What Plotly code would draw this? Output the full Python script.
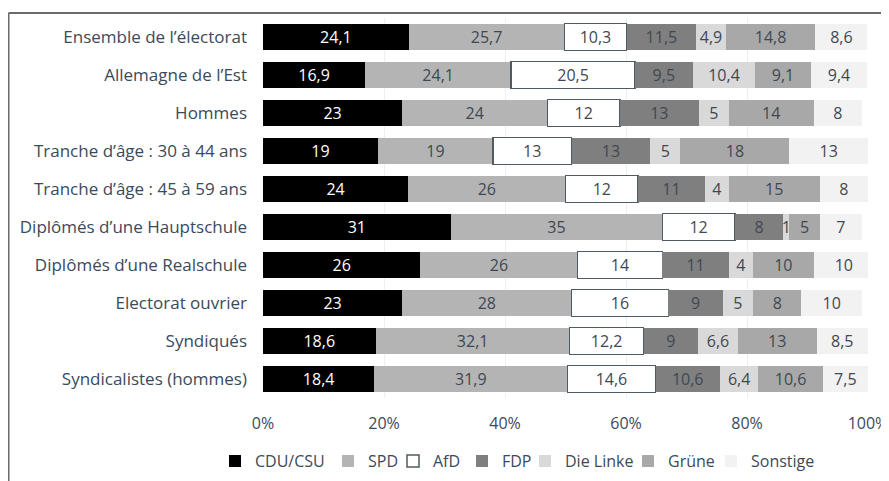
import plotly.graph_objects as go

categories = [
    "Ensemble de l’électorat",
    "Allemagne de l’Est",
    "Hommes",
    "Tranche d’âge : 30 à 44 ans",
    "Tranche d’âge : 45 à 59 ans",
    "Diplômés d’une Hauptschule",
    "Diplômés d’une Realschule",
    "Electorat ouvrier",
    "Syndiqués",
    "Syndicalistes (hommes)",
]

cdu = [24.1, 16.9, 23, 19, 24, 31, 26, 23, 18.6, 18.4]
spd = [25.7, 24.1, 24, 19, 26, 35, 26, 28, 32.1, 31.9]
afd = [10.3, 20.5, 12, 13, 12, 12, 14, 16, 12.2, 14.6]
fdp = [11.5, 9.5, 13, 13, 11, 8, 11, 9, 9, 10.6]
linke = [4.9, 10.4, 5, 5, 4, 1, 4, 5, 6.6, 6.4]
gruene = [14.8, 9.1, 14, 18, 15, 5, 10, 8, 13, 10.6]
sonstige = [8.6, 9.4, 8, 13, 8, 7, 10, 10, 8.5, 7.5]

tick_vals = [0, 20, 40, 60, 80, 100]
tick_text = ["0%", "20%", "40%", "60%", "80%", "100%"]

# name, values, fill, text colour, outline width, outline colour, legend entry width
series = [
    ("CDU/CSU", cdu, "#000000", "#ffffff", 0, "#000000", 68),
    ("SPD", spd, "#b4b4b4", "#3f4852", 0, "#b4b4b4", 20),
    ("AfD", afd, "#ffffff", "#3f4852", 1.5, "#505a62", 24),
    ("FDP", fdp, "#7f7f7f", "#3f4852", 0, "#7f7f7f", 18),
    ("Die Linke", linke, "#d9d9d9", "#3f4852", 0, "#d9d9d9", 58),
    ("Grüne", gruene, "#a8a8a8", "#3f4852", 0, "#a8a8a8", 38),
    ("Sonstige", sonstige, "#f2f2f2", "#3f4852", 0, "#f2f2f2", 70),
]

FONT = "Open Sans"
TXT = "#3b4a5a"

fig = go.Figure()
for name, vals, color, tcolor, lw, lc, legw in series:
    fig.add_trace(go.Bar(
        name=name,
        y=categories,
        x=vals,
        orientation="h",
        marker=dict(color=color, line=dict(width=lw, color=lc)),
        text=[f"{v:g}".replace(".", ",") for v in vals],
        textposition="inside",
        insidetextanchor="middle",
        textangle=0,
        constraintext="none",
        textfont=dict(family=FONT, size=16, color=tcolor),
        hoverinfo="skip",
        legendwidth=legw,
    ))

W, H = 881, 473
L, R, T, B = 255, 21, 10, 83
pw, ph = W - L - R, H - T - B

fig.update_layout(
    barmode="stack",
    bargap=0.29,
    width=W,
    height=H,
    margin=dict(l=L, r=R, t=T, b=B, autoexpand=False),
    paper_bgcolor="#ffffff",
    plot_bgcolor="#ffffff",
    font=dict(family=FONT, size=16, color=TXT),
    uniformtext=dict(minsize=16, mode="show"),
    legend=dict(
        orientation="h",
        x=(207 - L) / pw, xanchor="left",
        y=-0.166, yanchor="middle",
        font=dict(family=FONT, size=16, color=TXT),
        itemwidth=30,
        traceorder="normal",
    ),
    xaxis=dict(
        range=[0, 100],
        tickvals=tick_vals,
        ticktext=tick_text,
        showgrid=True,
        gridcolor="#efefef",
        zeroline=False,
        showline=False,
        tickfont=dict(family=FONT, size=16, color=TXT),
        ticklabelstandoff=14,
        ticklabeloverflow="allow",
        automargin=False,
    ),
    yaxis=dict(
        autorange="reversed",
        showgrid=False,
        showline=False,
        tickfont=dict(family=FONT, size=17, color=TXT),
        ticklabelstandoff=15,
        automargin=False,
    ),
    shapes=[
        dict(type="line", xref="paper", yref="paper",
             x0=(0.5 - L) / pw, x1=(W - L) / pw,
             y0=(H - B - 5) / ph, y1=(H - B - 5) / ph,
             line=dict(color="#6b6b6b", width=2)),
        dict(type="line", xref="paper", yref="paper",
             x0=(0.5 - L) / pw, x1=(0.5 - L) / pw,
             y0=(H - B - 5) / ph, y1=(H - B - H) / ph,
             line=dict(color="#6b6b6b", width=2)),
    ],
)

fig.write_html("out.html")
